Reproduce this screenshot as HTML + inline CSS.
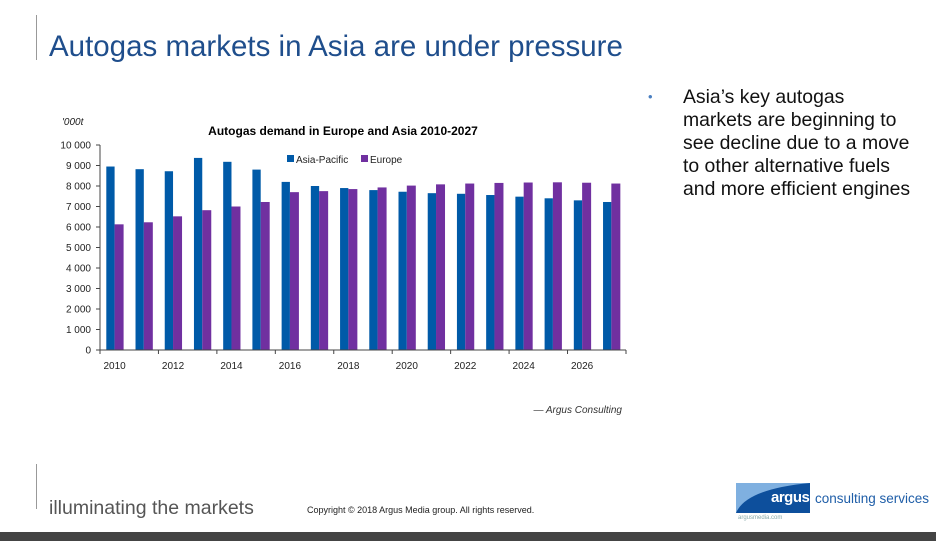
<!DOCTYPE html>
<html><head><meta charset="utf-8"><style>
body{margin:0;width:936px;height:541px;overflow:hidden;background:#fff;font-family:"Liberation Sans",sans-serif;position:relative}
.t{position:absolute;white-space:nowrap}
</style></head><body>
<div style="position:absolute;left:36px;top:15px;width:1px;height:45px;background:#999"></div>
<div class="t" style="left:49px;top:30px;font-size:29.5px;color:#1f4e8c">Autogas markets in Asia are under pressure</div>
<div class="t" style="left:648px;top:89px;font-size:13px;color:#4a7fc1">•</div>
<div class="t" style="left:683px;top:86px;font-size:19.4px;line-height:23px;color:#111">Asia’s key autogas<br>markets are beginning to<br>see decline due to a move<br>to other alternative fuels<br>and more efficient engines</div>
<svg width="936" height="541" style="position:absolute;left:0;top:0" font-family="Liberation Sans, sans-serif">
<text x="62" y="125" font-size="10" font-style="italic" fill="#222">'000t</text>
<text x="343" y="135" font-size="12" font-weight="bold" text-anchor="middle" fill="#000">Autogas demand in Europe and Asia 2010-2027</text>
<rect x="287" y="155" width="7" height="7" fill="#005aa8"/><text x="296" y="163" font-size="10" fill="#222">Asia-Pacific</text>
<rect x="361" y="155" width="7" height="7" fill="#7030a0"/><text x="370" y="163" font-size="10" fill="#222">Europe</text>
<g id="bars"></g>
<g id="ax" stroke="#444" stroke-width="1"></g>
<g id="lab" font-size="10" fill="#222"></g>
<text x="622" y="413" font-size="10" font-style="italic" text-anchor="end" fill="#333">— Argus Consulting</text>
</svg>
<div style="position:absolute;left:36px;top:464px;width:1px;height:45px;background:#999"></div>
<div class="t" style="left:49px;top:497px;font-size:19.5px;color:#555">illuminating the markets</div>
<div class="t" style="left:307px;top:505px;font-size:9px;color:#222">Copyright © 2018 Argus Media group. All rights reserved.</div>
<svg width="74" height="30" style="position:absolute;left:736px;top:483px"><rect width="74" height="30" fill="#0d4f9c"/><path d="M0 30 Q10 6 74 0 L0 0Z" fill="#7fb0e0"/></svg>
<div class="t" style="left:771px;top:489px;font-size:15px;font-weight:bold;color:#fff;letter-spacing:-0.5px">argus</div>
<div class="t" style="left:815px;top:491px;font-size:13.5px;color:#1f5ea8">consulting services</div>
<div class="t" style="left:738px;top:515px;font-size:6px;color:#8aa">argusmedia.com</div>
<div style="position:absolute;left:0;top:532px;width:936px;height:9px;background:#444"></div>
<script>
var A=[8950,8820,8720,9370,9180,8800,8200,8000,7900,7800,7720,7650,7620,7560,7480,7400,7300,7220];
var E=[6130,6230,6520,6820,7000,7220,7700,7750,7850,7930,8020,8080,8120,8150,8170,8180,8160,8120];
var ns="http://www.w3.org/2000/svg",b=document.getElementById('bars'),ax=document.getElementById('ax'),lb=document.getElementById('lab');
function el(p,t,a){var e=document.createElementNS(ns,t);for(var k in a)e.setAttribute(k,a[k]);p.appendChild(e);return e}
var y0=350,s=0.0205,w=29.22;
for(var i=0;i<18;i++){var x=100+w*i;
el(b,'rect',{x:x+6.3,y:y0-A[i]*s,width:8.3,height:A[i]*s,fill:'#005aa8'});
el(b,'rect',{x:x+14.6,y:y0-E[i]*s,width:9,height:E[i]*s,fill:'#7030a0'});
if(i%2==0){el(ax,'line',{x1:x,y1:350,x2:x,y2:354});var t=el(lb,'text',{x:x+14.6,y:369,'text-anchor':'middle'});t.textContent=2010+i;}}
el(ax,'line',{x1:626,y1:350,x2:626,y2:354});
el(ax,'line',{x1:100,y1:145,x2:100,y2:350});el(ax,'line',{x1:100,y1:350,x2:626,y2:350});
for(var v=0;v<=10000;v+=1000){var y=y0-v*s;el(ax,'line',{x1:96,y1:y,x2:100,y2:y});
var t=el(lb,'text',{x:91,y:y+3.5,'text-anchor':'end'});t.textContent=v>=1000?Math.floor(v/1000)+' 000':'0';}
</script>
</body></html>
